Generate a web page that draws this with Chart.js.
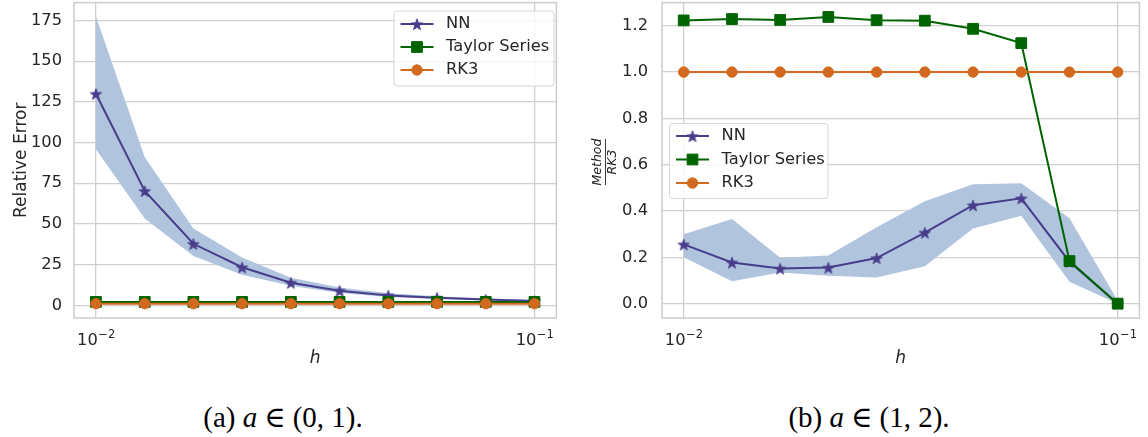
<!DOCTYPE html>
<html>
<head>
<meta charset="utf-8">
<script src="https://cdn.jsdelivr.net/npm/chart.js@4.4.0/dist/chart.umd.min.js"></script>
<style>
    body { margin: 0; background: #fff; }
    #wrap { position: relative; width: 1148px; height: 437px; overflow: hidden; background: #fff; }
    .panel { position: absolute; top: -6px; height: 378px; }
    #panelA { left: 0; width: 565px; }
    #panelB { left: 580px; width: 568px; }
    .caption {
        position: absolute; top: 400px; transform: translateX(-50%);
        font-family: 'Liberation Serif', 'DejaVu Serif', serif; font-size: 29px;
        color: #000; white-space: nowrap;
    }
    .caption .rel { margin: 0 7px; }
</style>
</head>
<body>
<div id="wrap">
    <div class="panel" id="panelA"><canvas id="chartA"></canvas></div>
    <div class="panel" id="panelB"><canvas id="chartB"></canvas></div>
    <div class="caption" style="left:283px">(a) <i>a</i><span class="rel">∈</span>(0, 1).</div>
    <div class="caption" style="left:869px">(b) <i>a</i><span class="rel">∈</span>(1, 2).</div>
</div>
<script>
// step sizes (shared by both panels)
const h = [0.01, 0.01292, 0.01668, 0.02154, 0.02783, 0.03594, 0.04642, 0.05995, 0.07743, 0.1];

// panel (a): a in (0,1), relative error
const nnA      = [130.0, 70.3, 37.8, 23.4, 13.9, 9.0, 6.1, 4.7, 3.5, 2.7];
const nnAUpper = [177.5, 91.2, 47.2, 29.4, 17.0, 11.0, 7.4, 5.6, 4.2, 3.2];
const nnALower = [95.9, 53.4, 30.3, 18.8, 12.0, 7.6, 5.1, 3.9, 2.9, 2.2];
const taylorA  = [2.1, 2.1, 2.1, 2.1, 2.1, 2.1, 2.1, 2.1, 2.1, 2.1];
const rk3A     = [1.0, 1.0, 1.0, 1.0, 1.0, 1.0, 1.0, 1.0, 1.0, 1.0];

// panel (b): a in (1,2), method / RK3
const nnB      = [0.256, 0.178, 0.152, 0.156, 0.197, 0.307, 0.425, 0.455, 0.181, 0.0];
const nnBUpper = [0.300, 0.366, 0.198, 0.208, 0.330, 0.442, 0.516, 0.520, 0.369, 0.012];
const nnBLower = [0.200, 0.097, 0.134, 0.120, 0.113, 0.162, 0.324, 0.380, 0.094, 0.0];
const taylorB  = [1.223, 1.229, 1.225, 1.238, 1.224, 1.222, 1.187, 1.125, 0.184, 0.0];
const rk3B     = [1.0, 1.0, 1.0, 1.0, 1.0, 1.0, 1.0, 1.0, 1.0, 1.0];

// ticks
const xTicks = [0.01, 0.1];
const xTickBase = '10';
const xTickExp = ['\u22122', '\u22121'];
const yTicksA = [0, 25, 50, 75, 100, 125, 150, 175];
const yTicksB = [0, 0.2, 0.4, 0.6, 0.8, 1.0, 1.2];

const seriesNames = ['NN', 'Taylor Series', 'RK3'];

const NN_COLOR = '#483d8b';
const TAYLOR_COLOR = '#006400';
const RK3_COLOR = '#d2691e';
const BAND_COLOR = '#b0c4de';
const TEXT_COLOR = '#262626';
const GRID_COLOR = '#d0d0d0';
const FONT = "'DejaVu Sans', sans-serif";
const TICK_SIZE = 16.3;
const SHIFT = 6; // canvases sit 6px above the page top

// filled five point star, like matplotlib's '*' marker
function makeStar(color, r) {
    const c = document.createElement('canvas');
    const size = Math.ceil(r * 2 + 4);
    c.width = size; c.height = size;
    const ctx = c.getContext('2d');
    ctx.translate(size / 2, size / 2 + 0.8);
    ctx.beginPath();
    for (let i = 0; i < 10; i++) {
        const rad = i % 2 === 0 ? r : r * 0.42;
        const ang = -Math.PI / 2 + i * Math.PI / 5;
        ctx.lineTo(rad * Math.cos(ang), rad * Math.sin(ang));
    }
    ctx.closePath();
    ctx.fillStyle = color;
    ctx.fill();
    ctx.strokeStyle = color;
    ctx.lineWidth = 0.8;
    ctx.stroke();
    return c;
}
const starImg = makeStar(NN_COLOR, 6);

function pts(ys) {
    return h.map((x, i) => ({ x: x, y: ys[i] }));
}

function buildDatasets(nn, upper, lower, taylor, rk3) {
    return [
        { label: 'band', data: pts(upper), fill: '+1', backgroundColor: BAND_COLOR,
          borderWidth: 0, pointRadius: 0, order: 5 },
        { label: 'bandLow', data: pts(lower), fill: false, borderWidth: 0, pointRadius: 0, order: 5 },
        { label: 'NN', data: pts(nn), borderColor: NN_COLOR, borderWidth: 2,
          pointStyle: starImg, pointRadius: 6, pointBackgroundColor: NN_COLOR,
          pointBorderColor: NN_COLOR, fill: false, order: 3 },
        { label: 'Taylor Series', data: pts(taylor), borderColor: TAYLOR_COLOR, borderWidth: 2,
          pointStyle: 'rect', pointRadius: 7.6, pointBackgroundColor: TAYLOR_COLOR,
          pointBorderColor: TAYLOR_COLOR, pointBorderWidth: 1, fill: false, order: 2 },
        { label: 'RK3', data: pts(rk3), borderColor: RK3_COLOR, borderWidth: 2,
          pointStyle: 'circle', pointRadius: 5.2, pointBackgroundColor: RK3_COLOR,
          pointBorderColor: RK3_COLOR, pointBorderWidth: 1, fill: false, order: 1 }
    ];
}

// light grey box round the plot area
const frame = {
    id: 'frame',
    afterDatasetsDraw(chart) {
        const a = chart.chartArea, ctx = chart.ctx;
        ctx.save();
        ctx.strokeStyle = '#cccccc';
        ctx.lineWidth = 1.5;
        ctx.strokeRect(a.left, a.top, a.right - a.left, a.bottom - a.top);
        ctx.restore();
    }
};

// x tick labels as 10 with a raised exponent
const expTicks = {
    id: 'expTicks',
    afterDraw(chart) {
        const ctx = chart.ctx, xs = chart.scales.x;
        const baseY = chart.chartArea.bottom + 27;
        ctx.save();
        ctx.fillStyle = TEXT_COLOR;
        ctx.textBaseline = 'alphabetic';
        ctx.textAlign = 'left';
        xTicks.forEach((v, i) => {
            const px = xs.getPixelForValue(v);
            ctx.font = TICK_SIZE + 'px ' + FONT;
            const wb = ctx.measureText(xTickBase).width;
            ctx.font = '11.5px ' + FONT;
            const we = ctx.measureText(xTickExp[i]).width;
            const x0 = px - (wb + we) / 2;
            ctx.font = TICK_SIZE + 'px ' + FONT;
            ctx.fillText(xTickBase, x0, baseY);
            ctx.font = '11.5px ' + FONT;
            ctx.fillText(xTickExp[i], x0 + wb + 0.5, baseY - 7.5);
        });
        ctx.restore();
    }
};

// legend inside the axes, at a given spot
function legendAt(box) {
    return {
        id: 'legendAt',
        afterDraw(chart) {
            const ctx = chart.ctx;
            ctx.save();
            ctx.fillStyle = 'rgba(255,255,255,0.8)';
            ctx.strokeStyle = '#d6d6d6';
            ctx.lineWidth = 1;
            ctx.beginPath();
            ctx.roundRect(box.x, box.y + SHIFT, box.w, box.h, 3);
            ctx.fill();
            ctx.stroke();
            ctx.font = TICK_SIZE + 'px ' + FONT;
            ctx.textBaseline = 'middle';
            seriesNames.forEach((name, i) => {
                const ds = chart.data.datasets.find(d => d.label === name);
                const y = box.y + SHIFT + box.row0 + i * box.gap;
                ctx.strokeStyle = ds.borderColor;
                ctx.lineWidth = ds.borderWidth;
                ctx.beginPath();
                ctx.moveTo(box.x + 6.5, y);
                ctx.lineTo(box.x + 39.5, y);
                ctx.stroke();
                ctx.fillStyle = ds.pointBackgroundColor;
                ctx.strokeStyle = ds.pointBorderColor;
                ctx.lineWidth = 1;
                Chart.helpers.drawPoint(ctx, { pointStyle: ds.pointStyle, radius: ds.pointRadius,
                    rotation: 0, borderWidth: 1 }, box.x + 23, y);
                ctx.fillStyle = TEXT_COLOR;
                ctx.fillText(name, box.x + 52, y);
            });
            ctx.restore();
        }
    };
}

// Method / RK3 written as a fraction, turned on its side
const fracTitle = {
    id: 'fracTitle',
    afterDraw(chart) {
        const ctx = chart.ctx;
        ctx.save();
        ctx.translate(25.5, 162 + SHIFT);
        ctx.rotate(-Math.PI / 2);
        ctx.fillStyle = TEXT_COLOR;
        ctx.font = 'italic 12.5px ' + FONT;
        ctx.textAlign = 'center';
        ctx.textBaseline = 'middle';
        ctx.fillText('Method', 0, -7.5);
        ctx.fillText('RK3', 0, 7.5);
        ctx.strokeStyle = TEXT_COLOR;
        ctx.lineWidth = 0.9;
        ctx.beginPath();
        ctx.moveTo(-23, 0);
        ctx.lineTo(23, 0);
        ctx.stroke();
        ctx.restore();
    }
};

function makeOptions(yMin, yMax, yTicks, yFmt, yWidth, yPad, yTitle, rightPad) {
    return {
        responsive: true,
        maintainAspectRatio: false,
        animation: false,
        layout: { padding: { top: 2, right: rightPad, left: 0, bottom: 0 } },
        plugins: { legend: { display: false }, tooltip: { enabled: false } },
        scales: {
            x: {
                type: 'logarithmic',
                min: Math.pow(10, -2.05),
                max: Math.pow(10, -0.95),
                afterBuildTicks: (s) => { s.ticks = xTicks.map(v => ({ value: v })); },
                afterFit: (s) => {
                    s.height = 54;
                    s.paddingLeft = 0; s.paddingRight = 0;
                },
                border: { display: false },
                grid: { color: GRID_COLOR, lineWidth: 1.3, drawTicks: false },
                ticks: { display: false },
                title: {
                    display: true, text: 'h', color: TEXT_COLOR,
                    font: { family: FONT, size: 17, style: 'italic' },
                    padding: { top: 0, bottom: 3 }
                }
            },
            y: {
                min: yMin,
                max: yMax,
                afterBuildTicks: (s) => { s.ticks = yTicks.map(v => ({ value: v })); },
                afterFit: (s) => {
                    s.width = yWidth;
                    s.paddingTop = 0; s.paddingBottom = 0;
                },
                border: { display: false },
                grid: { color: GRID_COLOR, lineWidth: 1.3, drawTicks: false },
                ticks: {
                    padding: yPad, color: TEXT_COLOR,
                    font: { family: FONT, size: TICK_SIZE },
                    callback: yFmt
                },
                title: {
                    display: !!yTitle, text: yTitle || '', color: TEXT_COLOR,
                    font: { family: FONT, size: 17 },
                    padding: { top: 11, bottom: 0 }
                }
            }
        }
    };
}

new Chart(document.getElementById('chartA'), {
    type: 'line',
    data: { datasets: buildDatasets(nnA, nnAUpper, nnALower, taylorA, rk3A) },
    options: makeOptions(-7.8, 186, yTicksA, v => String(v), 74, 12, 'Relative Error', 4),
    plugins: [frame, expTicks, legendAt({ x: 394, y: 11, w: 160, h: 75, row0: 13, gap: 23 })]
});

new Chart(document.getElementById('chartB'), {
    type: 'line',
    data: { datasets: buildDatasets(nnB, nnBUpper, nnBLower, taylorB, rk3B) },
    options: makeOptions(-0.062, 1.30, yTicksB, v => v.toFixed(1), 82, 14, null, 3),
    plugins: [frame, expTicks, fracTitle, legendAt({ x: 89.5, y: 123.5, w: 158.5, h: 75, row0: 12.5, gap: 23.5 })]
});
</script>
</body>
</html>
